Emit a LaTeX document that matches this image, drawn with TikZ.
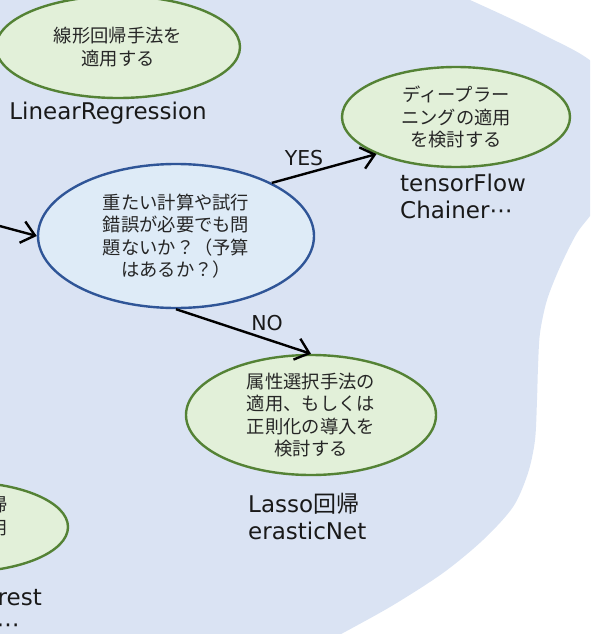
\documentclass[tikz,border=0pt]{standalone}
\usepackage{fontspec}
\setmainfont{DejaVu Sans}
\newfontfamily\jp{Noto Sans CJK JP}
\usetikzlibrary{shapes.geometric,arrows.meta}
\definecolor{blobc}{RGB}{218,227,243}
\definecolor{gfill}{RGB}{226,240,217}
\definecolor{gline}{RGB}{84,130,53}
\definecolor{bfill}{RGB}{222,235,247}
\definecolor{bline}{RGB}{47,85,151}
\definecolor{txt}{RGB}{38,38,38}
\begin{document}
\begin{tikzpicture}[x=1pt,y=1pt,
  gell/.style={ellipse, draw=gline, fill=gfill, line width=2.4pt, inner sep=0pt,
    align=center, font=\jp\fontsize{18.3}{22.5}\selectfont, text=txt},
  bell/.style={gell, draw=bline, fill=bfill},
  lbl/.style={inner sep=0pt, align=left, font=\fontsize{23}{27}\selectfont, text=black!90},
  yn/.style={inner sep=0pt, font=\fontsize{20.5}{24}\selectfont, text=black!90},
  arr/.style={line width=2.4pt, -{Straight Barb[length=13pt,width=22pt]}}
]
\useasboundingbox (0,0) rectangle (590,-634);
\clip (0,0) rectangle (590,-634);
% background blob
\fill[blobc] (-5,5) -- (470,5) -- plot[smooth] coordinates {(470,0) (540,-33) (600,-70) (615,-140) (600,-200) (577,-233) (560,-267) (547,-300) (540,-333) (538,-367) (537,-400) (535,-440) (528,-473) (513,-507) (483,-540) (443,-573) (390,-607) (330,-640)} -- (-5,-640) -- cycle;

% nodes
\node[gell, minimum width=244, minimum height=102] (e1) at (118,-47) {線形回帰手法を\\適用する};
\node[lbl] (l1) at (108,-113) {LinearRegression};

\node[bell, minimum width=276, minimum height=144] (e2) at (176,-236)
  {重たい計算や試行\\錯誤が必要でも問\\題ないか？（予算\\はあるか？）};

\node[gell, minimum width=228, minimum height=100] (e3) at (456,-117)
  {ディープラー\\ニングの適用\\を検討する};
\node[lbl, anchor=west] (l3) at (400,-196.5) {tensorFlow\\Chainer⋯};

\node[gell, minimum width=250, minimum height=120] (e4) at (311,-415)
  {属性選択手法の\\適用、もしくは\\正則化の導入を\\検討する};
\node[lbl, anchor=west] (l4) at (248,-516.5) {Lasso{\jp 回帰}\\erasticNet};

\node[gell, minimum width=212, minimum height=90] (e5) at (-38,-527)
  {非線形回帰\\手法を適用\\する};
\node[lbl, anchor=east] (l5) at (42,-610) {RandomForest\\ExtraTrees⋯};

% connectors
\coordinate (in) at (-30,-218);
\draw[arr] (in) -- (e2.west);
\draw[arr] (e2.29) -- (e3.205);
\draw[arr] (e2.south) -- (e4.north);
\node[yn] (yes) at (304,-158) {YES};
\node[yn] (no) at (267,-323) {NO};
\end{tikzpicture}
\end{document}
